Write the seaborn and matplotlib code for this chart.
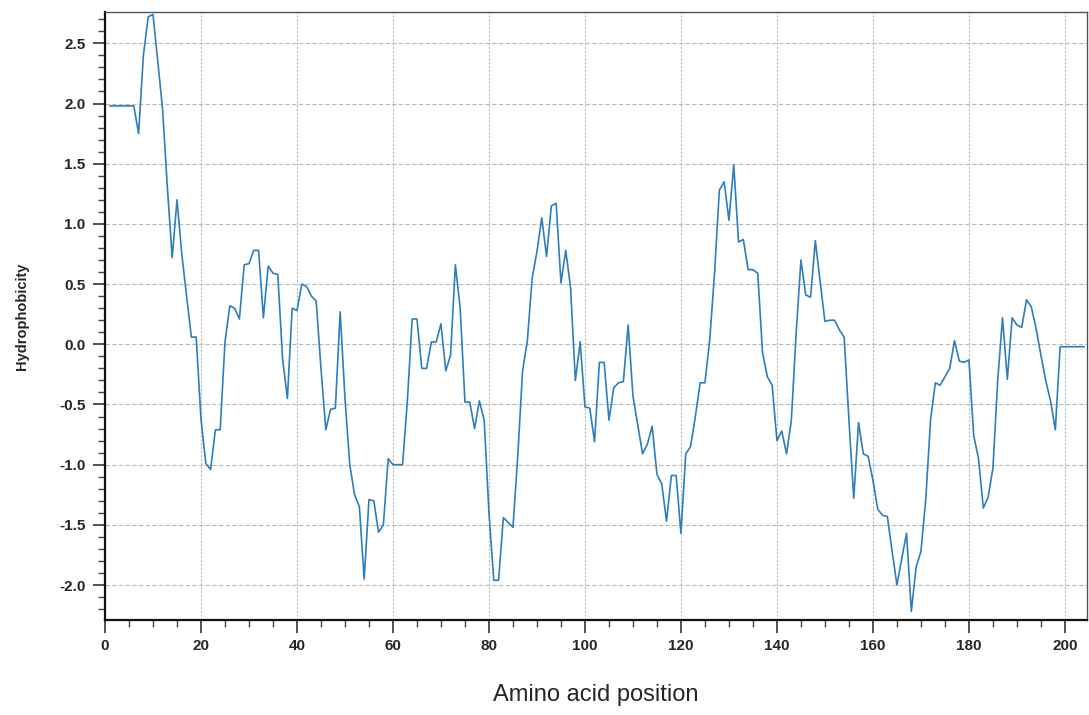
import numpy as np
import pandas as pd
import seaborn as sns
import matplotlib
matplotlib.use("Agg")
import matplotlib.pyplot as plt
from matplotlib.ticker import MultipleLocator

positions = list(range(1, 205))
hydrophobicity = [
    1.98, 1.98, 1.98, 1.98, 1.98, 1.98, 1.75, 2.40, 2.72, 2.74,
    2.35, 1.95, 1.30, 0.72, 1.20, 0.75, 0.40, 0.06, 0.06, -0.62,
    -0.99, -1.04, -0.71, -0.71, 0.02, 0.32, 0.30, 0.21, 0.66, 0.67,
    0.78, 0.78, 0.22, 0.65, 0.59, 0.58, -0.12, -0.45, 0.30, 0.28,
    0.50, 0.48, 0.40, 0.36, -0.20, -0.71, -0.54, -0.53, 0.27, -0.45,
    -1.00, -1.25, -1.35, -1.95, -1.29, -1.30, -1.56, -1.50, -0.95, -1.00,
    -1.00, -1.00, -0.47, 0.21, 0.21, -0.20, -0.20, 0.02, 0.02, 0.17,
    -0.22, -0.09, 0.66, 0.30, -0.48, -0.48, -0.70, -0.47, -0.63, -1.40,
    -1.96, -1.96, -1.44, -1.48, -1.52, -0.93, -0.22, 0.03, 0.55, 0.77,
    1.05, 0.73, 1.15, 1.17, 0.51, 0.78, 0.47, -0.30, 0.02, -0.52,
    -0.53, -0.81, -0.15, -0.15, -0.63, -0.36, -0.32, -0.31, 0.16, -0.43,
    -0.67, -0.91, -0.83, -0.68, -1.08, -1.16, -1.47, -1.09, -1.09, -1.57,
    -0.91, -0.85, -0.60, -0.32, -0.32, 0.04, 0.59, 1.28, 1.35, 1.03,
    1.49, 0.85, 0.87, 0.62, 0.62, 0.59, -0.07, -0.27, -0.34, -0.80,
    -0.72, -0.91, -0.63, 0.09, 0.70, 0.41, 0.39, 0.86, 0.52, 0.19,
    0.20, 0.20, 0.12, 0.06, -0.63, -1.28, -0.65, -0.91, -0.93, -1.13,
    -1.37, -1.42, -1.43, -1.72, -2.00, -1.78, -1.57, -2.22, -1.85, -1.72,
    -1.29, -0.63, -0.32, -0.34, -0.27, -0.20, 0.03, -0.14, -0.15, -0.13,
    -0.76, -0.95, -1.36, -1.27, -1.03, -0.30, 0.22, -0.29, 0.22, 0.16,
    0.14, 0.37, 0.31, 0.13, -0.09, -0.30, -0.47, -0.71, -0.02, -0.02,
    -0.02, -0.02, -0.02, -0.02,
]
x_label = "Amino acid position"
y_label = "Hydrophobicity"

df = pd.DataFrame({"pos": positions, "h": hydrophobicity})

sns.set_theme(style="white")
plt.rcParams['font.family'] = ['Liberation Sans', 'DejaVu Sans']

fig = plt.figure(figsize=(10.89, 7.15), dpi=100)
ax = fig.add_axes([105/1089, 1 - 620/715, (1087 - 105)/1089, (620 - 12)/715])

sns.lineplot(data=df, x="pos", y="h", ax=ax, color="#2e7ebd", linewidth=1.2)

ax.set_xlim(0, 204.6)
ax.set_ylim(-2.29, 2.76)
ax.xaxis.set_major_locator(MultipleLocator(20))
ax.xaxis.set_minor_locator(MultipleLocator(5))
ax.yaxis.set_major_locator(MultipleLocator(0.5))
ax.yaxis.set_minor_locator(MultipleLocator(0.1))
ax.set_yticks(np.arange(-2.0, 2.51, 0.5))
ax.set_yticklabels([f"{v:.1f}" for v in np.arange(-2.0, 2.51, 0.5)])

ax.grid(True, axis="y", which="major", color="#b8b8b8", linestyle=(0, (4, 2)), linewidth=0.8)
ax.grid(True, axis="x", which="major", color="#b8b8b8", linestyle=(0, (2, 1.5)), linewidth=0.8)
ax.tick_params(axis="both", which="major", direction="out", length=9, width=1.1,
               color="#222222", labelsize=11, bottom=True, left=True, pad=5)
ax.tick_params(axis="both", which="minor", direction="out", length=5, width=1.0,
               color="#444444", bottom=True, left=True)
for lbl in ax.get_xticklabels() + ax.get_yticklabels():
    lbl.set_fontweight("bold")

for side in ["left", "bottom"]:
    ax.spines[side].set_color("#111111")
    ax.spines[side].set_linewidth(1.6)
for side in ["top", "right"]:
    ax.spines[side].set_color("#555555")
    ax.spines[side].set_linewidth(1.0)

ax.set_xlabel(x_label, fontsize=17, labelpad=22)
ax.set_ylabel(y_label, fontsize=10.5, fontweight="bold", labelpad=22)

fig.savefig("out.png", dpi=100)
